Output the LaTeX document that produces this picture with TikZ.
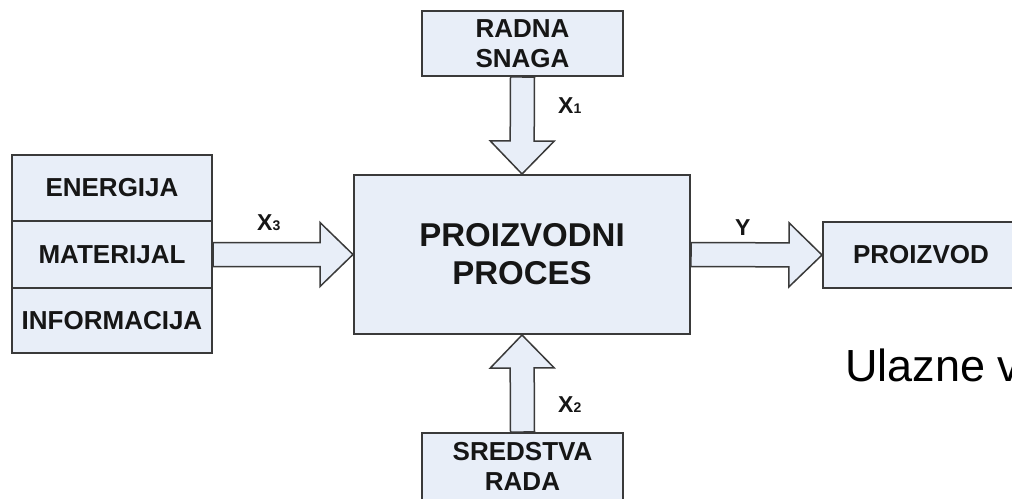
\documentclass[tikz,border=0pt]{standalone}
\usepackage{fontspec}
\setmainfont{Liberation Sans}
\usetikzlibrary{calc,backgrounds}

\definecolor{boxfill}{RGB}{232,238,248}
\definecolor{boxline}{RGB}{58,58,58}
\definecolor{ink}{RGB}{22,22,22}

\tikzset{
  block/.style={draw=boxline, line width=2pt, fill=boxfill, rectangle,
    align=center, text=ink, inner sep=0pt},
  smalltext/.style={font=\fontsize{26}{30}\selectfont\bfseries},
  bigtext/.style={font=\fontsize{33}{38}\selectfont\bfseries},
  varlabel/.style={anchor=base west, inner sep=0pt, text=ink,
    font=\fontsize{23}{23}\selectfont\bfseries},
  arrowline/.style={draw=boxline, line width=1.5pt, fill=boxfill, line join=miter}
}

% hollow block arrow from #1 to #2 (shaft half width 12pt, head half width 32pt, head length 33pt)
\newcommand\fatarrow[2]{%
  \path (#1) coordinate (fa-s) (#2) coordinate (fa-e);
  \path ($(fa-e)!33pt!(fa-s)$) coordinate (fa-h);
  \draw[arrowline] ($(fa-s)!12pt!90:(fa-e)$) -- ($(fa-h)!12pt!-90:(fa-s)$)
    -- ($(fa-h)!32pt!-90:(fa-s)$) -- (fa-e) -- ($(fa-h)!32pt!90:(fa-s)$)
    -- ($(fa-h)!12pt!90:(fa-s)$) -- ($(fa-s)!12pt!-90:(fa-e)$) -- cycle;
}

\newcommand\sub[1]{{\fontsize{14}{14}\selectfont #1}}

\begin{document}
\begin{tikzpicture}[x=1pt,y=-1pt]
\useasboundingbox (0,0) rectangle (1012,498);
\clip (0,0) rectangle (1012,498);

% central process
\node[block, bigtext, minimum width=336pt, minimum height=159pt] (proc) at (522,254.5)
  {PROIZVODNI\\PROCES};

% inputs stacked on the left
\node[block, smalltext, minimum width=200pt, minimum height=66pt] (ener) at (112,188) {ENERGIJA};
\node[block, smalltext, minimum width=200pt, minimum height=67pt] (mat) at (112,254.5) {MATERIJAL};
\node[block, smalltext, minimum width=200pt, minimum height=65pt] (info) at (112,320.5) {INFORMACIJA};

% top and bottom inputs
\node[block, smalltext, minimum width=201pt, minimum height=65pt] (radna) at (522.5,43.5) {RADNA\\SNAGA};
\node[block, smalltext, minimum width=201pt, minimum height=67pt] (sred) at (522.5,466.5) {SREDSTVA\\RADA};

% output
\node[block, smalltext, minimum width=196pt, minimum height=66pt] (prod) at (921,255) {PROIZVOD};

% block arrows, kept behind the boxes
\begin{scope}[on background layer]
  \fill[white] (0,0) rectangle (1012,498);
  \fatarrow{mat.east}{proc.west}
  \fatarrow{proc.east}{prod.west}
  \fatarrow{radna.south}{proc.north}
  \fatarrow{sred.north}{proc.south}
\end{scope}

% flow variables
\node[varlabel] (x1) at (558,113) {X\sub{1}};
\node[varlabel] (x2) at (558,412) {X\sub{2}};
\node[varlabel] (x3) at (257,230) {X\sub{3}};
\node[varlabel] (y)  at (735,235) {Y};

% caption
\node[anchor=base west, inner sep=0pt, text=black,
  font=\fontsize{45}{45}\selectfont] (cap) at (845,381) {Ulazne v};
\end{tikzpicture}
\end{document}
